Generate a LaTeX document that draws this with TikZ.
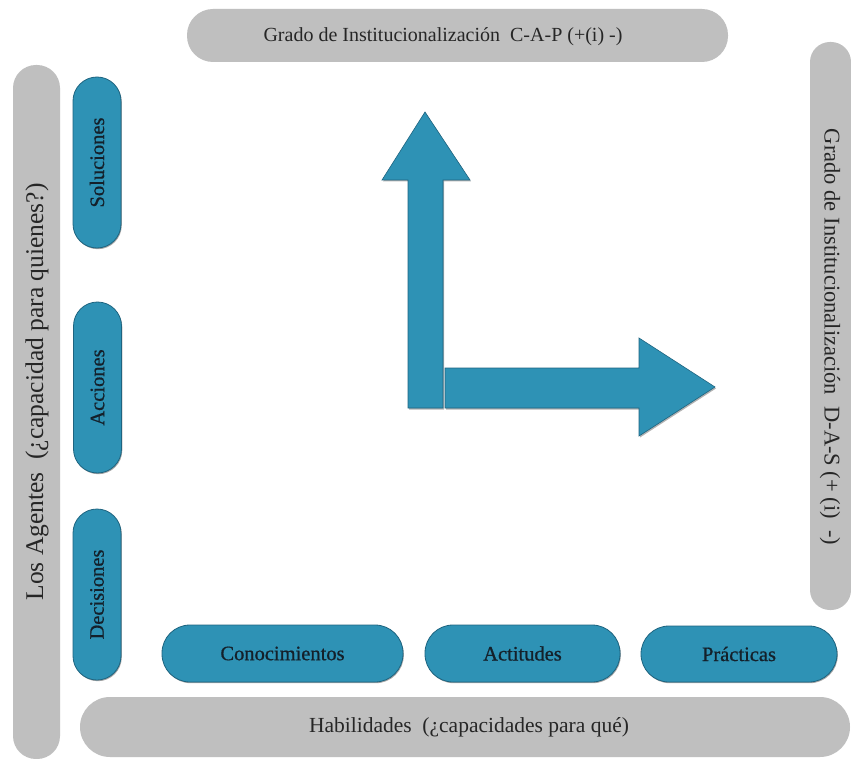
\documentclass[tikz,border=0pt]{standalone}
\usepackage{fontspec}
\setmainfont{Liberation Serif}
\newfontfamily\heavyserif[FakeBold=0.7]{Liberation Serif}
\usetikzlibrary{shadows}
\definecolor{pillgray}{RGB}{191,191,191}
\definecolor{tealfill}{RGB}{46,146,181}
\definecolor{tealedge}{RGB}{30,100,128}
\definecolor{tealtext}{RGB}{20,32,42}
\begin{document}
\begin{tikzpicture}[x=1pt,y=-1pt,
  graypill/.style={fill=pillgray, draw=none, inner sep=0pt},
  tealpill/.style={fill=tealfill, draw=tealedge, line width=0.8pt, inner sep=0pt,
    text=tealtext, font=\heavyserif\fontsize{20.5}{22}\selectfont,
    drop shadow={shadow xshift=0.8pt, shadow yshift=-1.2pt, opacity=0.35, fill=black}},
  graylabel/.style={inner sep=0pt, text=black!85, font=\fontsize{20}{22}\selectfont},
  arrowshape/.style={fill=tealfill, draw=tealedge, line width=0.6pt,
    drop shadow={shadow xshift=1pt, shadow yshift=-1.5pt, opacity=0.3, fill=black}}
]
\useasboundingbox (0,0) rectangle (851,759);
\clip (0,0) rectangle (851,759);
\fill[white] (0,0) rectangle (851,759);

% gray frame pills
\node[graypill, rounded corners=26pt, minimum width=541pt, minimum height=53pt] (toppill) at (457.5,35.5) {};
\node[graypill, rounded corners=23pt, minimum width=47pt, minimum height=694pt] (leftpill) at (36.5,412) {};
\node[graypill, rounded corners=20pt, minimum width=41pt, minimum height=568pt] (rightpill) at (830.5,326) {};
\node[graypill, rounded corners=30pt, minimum width=770pt, minimum height=60pt] (bottompill) at (465,727) {};

\node[graylabel] (toplabel) at (443,37) {Grado de Institucionalización\ \ C-A-P (+(i) -)};
\node[graylabel, rotate=90, font=\fontsize{25.5}{27}\selectfont] (leftlabel) at (37,392) {Los Agentes\ \ (¿capacidad para quienes?)};
\node[graylabel, rotate=-90, font=\fontsize{22.5}{24}\selectfont] (rightlabel) at (830,337) {Grado de Institucionalización\ \ D-A-S (+ (i)\ \ -)};
\node[graylabel, font=\fontsize{21.5}{23}\selectfont] (bottomlabel) at (469,727) {Habilidades\ \ (¿capacidades para qué)};

% teal vertical pills
\node[tealpill, rotate=90, rounded corners=24pt, minimum width=171pt, minimum height=48pt] (soluciones) at (97,162.5) {Soluciones};
\node[tealpill, rotate=90, rounded corners=24pt, minimum width=171pt, minimum height=48pt] (acciones) at (97.5,387.5) {Acciones};
\node[tealpill, rotate=90, rounded corners=24pt, minimum width=171pt, minimum height=48pt] (decisiones) at (97,594.5) {Decisiones};

% teal horizontal pills
\node[tealpill, rounded corners=28pt, minimum width=241pt, minimum height=57pt] (conocimientos) at (282.5,653.5) {Conocimientos};
\node[tealpill, rounded corners=28pt, minimum width=195pt, minimum height=57pt] (actitudes) at (522.5,653.5) {Actitudes};
\node[tealpill, rounded corners=28pt, minimum width=196pt, minimum height=56pt] (practicas) at (739,654) {Prácticas};

% arrows
\path[arrowshape] (408,408) -- (408,180) -- (382,180) -- (425,112) -- (470,180) -- (443,180) -- (443,408) -- cycle;
\path[arrowshape] (445,368) -- (639,368) -- (639,338) -- (715,387) -- (639,436) -- (639,408) -- (445,408) -- cycle;
\end{tikzpicture}
\end{document}
